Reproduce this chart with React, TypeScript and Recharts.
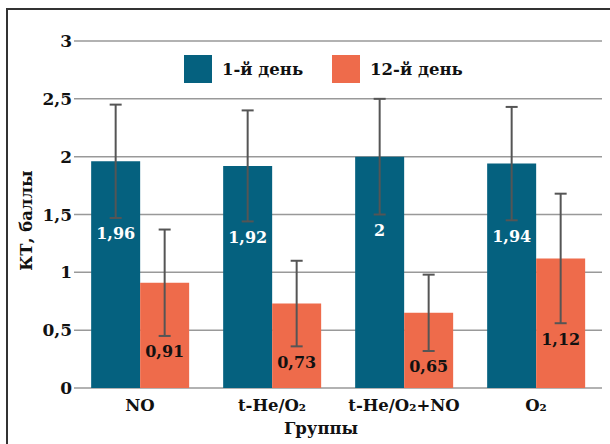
import React from 'react';
import { BarChart, Bar, XAxis, YAxis, CartesianGrid, ErrorBar, LabelList, Legend } from 'recharts';

const categories = ['NO', 't-He/O₂', 't-He/O₂+NO', 'O₂'];
const day1 = [1.96, 1.92, 2, 1.94];
const day12 = [0.91, 0.73, 0.65, 1.12];
const err1 = [0.49, 0.48, 0.5, 0.49];
const err12 = [0.46, 0.37, 0.33, 0.56];
const yTicks = [0, 0.5, 1, 1.5, 2, 2.5, 3];
const seriesNames = ['1-й день', '12-й день'];

const BLUE = '#05617f';
const ORANGE = '#ee6b4b';
const FONT = '"DejaVu Serif", serif';

const data = categories.map((c, i) => ({
  name: c,
  d1: day1[i],
  d12: day12[i],
  e1: err1[i],
  e12: err12[i],
}));

const fmt = (v: number) => String(v).replace('.', ',');

const makeLabel = (errs: number[], color: string) => (props: any) => {
  const { x, y, width, height, value, index } = props;
  const v = Number(value);
  const pxPerUnit = Number(height) / v;
  const lowEnd = Number(y) + errs[index] * pxPerUnit;
  return (
    <text
      x={Number(x) + Number(width) / 2}
      y={lowEnd + 16}
      textAnchor="middle"
      dominantBaseline="central"
      fill={color}
      fontFamily={FONT}
      fontWeight="bold"
      fontSize={16}
    >
      {fmt(v)}
    </text>
  );
};

const LegendContent = () => (
  <div style={{ display: 'flex', alignItems: 'center', fontFamily: FONT, fontWeight: 'bold', fontSize: 16.5, color: '#111' }}>
    {seriesNames.map((n, i) => (
      <div key={n} style={{ display: 'flex', alignItems: 'center', marginRight: i === 0 ? 29 : 0 }}>
        <div style={{ width: 28, height: 28, background: i === 0 ? BLUE : ORANGE, marginRight: 10 }} />
        <span>{n}</span>
      </div>
    ))}
  </div>
);

export default function App() {
  return (
    <div style={{ position: 'absolute', left: 0, top: 0, width: 610, height: 444, background: '#fff' }}>
      <div
        style={{
          position: 'absolute',
          left: 6,
          top: 8,
          right: 0,
          bottom: 0,
          borderTop: '2px solid #333',
          borderLeft: '2px solid #333',
          pointerEvents: 'none',
        }}
      />
      <BarChart
        width={610}
        height={444}
        data={data}
        margin={{ top: 41, right: 8, bottom: 26, left: 0 }}
        barCategoryGap="13%"
        barGap={0}
      >
        <CartesianGrid vertical={false} stroke="#999" strokeWidth={1.5} />
        <XAxis
          dataKey="name"
          height={30}
          axisLine={false}
          tickLine={false}
          tickSize={0}
          tickMargin={11}
          tick={{ fill: '#111', fontFamily: FONT, fontWeight: 'bold', fontSize: 16.5 }}
          label={{
            content: (p: any) => {
              const vb = p.viewBox;
              return (
                <text
                  x={321}
                  y={vb.y + 40}
                  textAnchor="middle"
                  dominantBaseline="central"
                  fill="#111"
                  fontFamily={FONT}
                  fontWeight="bold"
                  fontSize={16.5}
                >
                  Группы
                </text>
              );
            },
          }}
        />
        <YAxis
          width={74}
          domain={[0, 3]}
          ticks={yTicks}
          axisLine={false}
          tickLine={false}
          tickSize={0}
          tickMargin={2}
          tickFormatter={fmt}
          tick={{ fill: '#111', fontFamily: FONT, fontWeight: 'bold', fontSize: 17 }}
          label={{
            content: (p: any) => {
              const vb = p.viewBox;
              const cy = vb.y + vb.height / 2 + 6;
              return (
                <text
                  x={26}
                  y={cy}
                  transform={`rotate(-90, 26, ${cy})`}
                  textAnchor="middle"
                  dominantBaseline="central"
                  fill="#111"
                  fontFamily={FONT}
                  fontWeight="bold"
                  fontSize={16.5}
                >
                  КТ, баллы
                </text>
              );
            },
          }}
        />
        <Legend
          layout="horizontal"
          verticalAlign="middle"
          align="center"
          content={<LegendContent />}
          wrapperStyle={{ top: 55, left: 184, width: 'auto' }}
        />
        <Bar dataKey="d1" name={seriesNames[0]} fill={BLUE} isAnimationActive={false}>
          <ErrorBar dataKey="e1" width={6} stroke="#555" strokeWidth={2} />
          <LabelList dataKey="d1" content={makeLabel(err1, '#fff')} />
        </Bar>
        <Bar dataKey="d12" name={seriesNames[1]} fill={ORANGE} isAnimationActive={false}>
          <ErrorBar dataKey="e12" width={6} stroke="#555" strokeWidth={2} />
          <LabelList dataKey="d12" content={makeLabel(err12, '#111')} />
        </Bar>
      </BarChart>
    </div>
  );
}
